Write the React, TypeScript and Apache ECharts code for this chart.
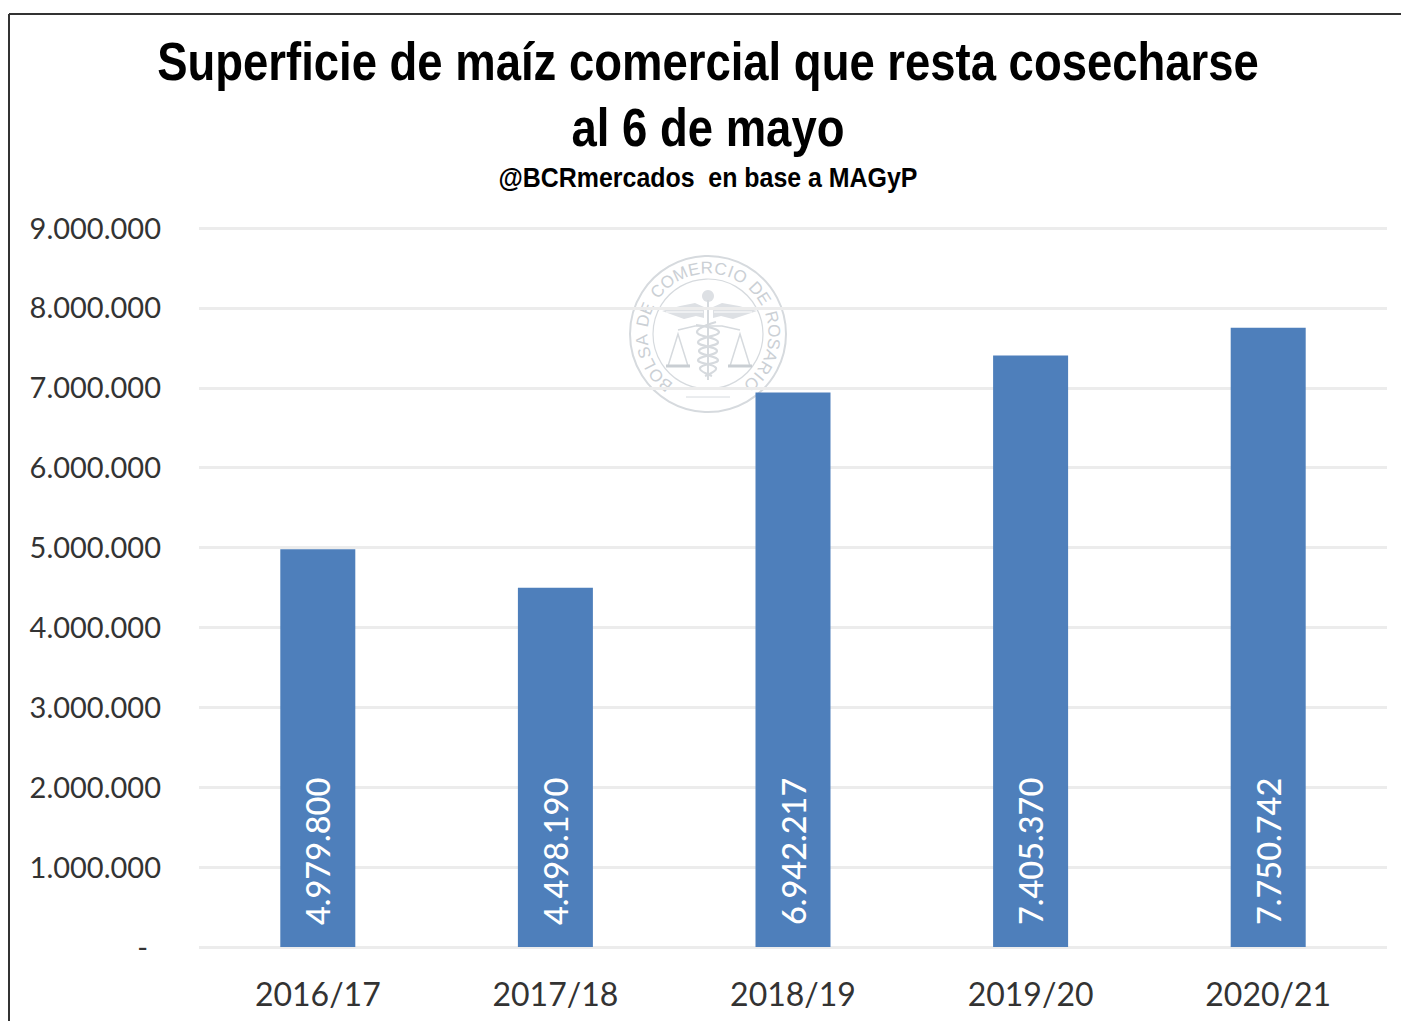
import React, { useEffect, useRef } from "react";
import * as echarts from "echarts";

const categories = ["2016/17", "2017/18", "2018/19", "2019/20", "2020/21"];
const values = [4979800, 4498190, 6942217, 7405370, 7750742];
const titleLine1 = "Superficie de maíz comercial que resta cosecharse";
const titleLine2 = "al 6 de mayo";
const subtitle = "@BCRmercados  en base a MAGyP";
const sealText = "BOLSA DE COMERCIO DE ROSARIO";

const fmt = (v: number) => Math.round(v).toString().replace(/\B(?=(\d{3})+(?!\d))/g, ".");
const LABEL_FONT = "Lato, Carlito, sans-serif";
const TITLE_FONT = "'Liberation Sans', sans-serif";
const SEAL = "#d6dade";
const cx = 708, cy = 334;

function charWidth(ch: string) {
  if (ch === " ") return 0.45;
  if (ch === "I") return 0.45;
  if (ch === "M") return 1.0;
  if ("OCR".includes(ch)) return 0.85;
  return 0.78;
}

function sealElements(): any[] {
  const stroke = { stroke: SEAL, fill: "none", lineWidth: 1.5 };
  const els: any[] = [
    { type: "circle", shape: { cx, cy, r: 78 }, style: { fill: "#fff", stroke: SEAL, lineWidth: 2 } },
    { type: "circle", shape: { cx, cy, r: 55 }, style: { ...stroke, lineWidth: 1.2 } },
    // wings
    { type: "polygon", shape: { points: [[662, 311], [680, 306], [695, 303], [704, 307], [704, 318], [696, 316], [684, 319]] }, style: { fill: "#dde0e4" } },
    { type: "polygon", shape: { points: [[757, 311], [739, 306], [722, 303], [713, 307], [713, 318], [721, 316], [733, 319]] }, style: { fill: "#dde0e4" } },
    { type: "line", shape: { x1: 666, y1: 312, x2: 703, y2: 312 }, style: { stroke: "#fff", lineWidth: 1 } },
    { type: "line", shape: { x1: 714, y1: 312, x2: 752, y2: 312 }, style: { stroke: "#fff", lineWidth: 1 } },
    { type: "circle", shape: { cx: 708, cy: 296, r: 6 }, style: { fill: "#dde0e4" } },
    { type: "line", shape: { x1: 708, y1: 300, x2: 708, y2: 380 }, style: { stroke: SEAL, lineWidth: 2 } },
    // serpents
    { type: "polyline", shape: { points: [[716, 322], [697, 332], [718, 342], [699, 351], [718, 360], [700, 368], [712, 376]], smooth: 0.5 }, style: { ...stroke, lineWidth: 2.2 } },
    { type: "polyline", shape: { points: [[696, 325], [719, 332], [698, 342], [717, 351], [698, 360], [716, 368], [705, 376]], smooth: 0.5 }, style: { ...stroke, lineWidth: 2.2 } },
    // scale beam
    { type: "polyline", shape: { points: [[678, 330], [695, 326], [722, 326], [740, 330]] }, style: stroke },
    // left and right pans
    { type: "polyline", shape: { points: [[668, 366], [678, 334], [688, 366]] }, style: stroke },
    { type: "polyline", shape: { points: [[730, 366], [740, 334], [750, 366]] }, style: stroke },
    { type: "line", shape: { x1: 666, y1: 366, x2: 690, y2: 366 }, style: { stroke: "#c9ced3", lineWidth: 3 } },
    { type: "line", shape: { x1: 728, y1: 366, x2: 752, y2: 366 }, style: { stroke: "#c9ced3", lineWidth: 3 } },
    { type: "line", shape: { x1: 686, y1: 397, x2: 730, y2: 397 }, style: { stroke: SEAL, lineWidth: 1 } },
  ];
  const start = -140, end = 139, r = 66;
  const chars = sealText.split("");
  const widths = chars.map(charWidth);
  const total = widths.reduce((a, b) => a + b, 0) - (widths[0] + widths[widths.length - 1]) / 2;
  let run = 0;
  chars.forEach((ch, i) => {
    if (i > 0) run += (widths[i - 1] + widths[i]) / 2;
    const deg = start + ((end - start) * run) / total;
    const rad = (deg * Math.PI) / 180;
    els.push({
      type: "text",
      x: cx + r * Math.sin(rad),
      y: cy - r * Math.cos(rad),
      rotation: (-deg * Math.PI) / 180,
      style: { text: ch, fill: "#cbd0d5", font: `17px 'Liberation Sans', sans-serif`, textAlign: "center", textVerticalAlign: "middle" },
    });
  });
  return els;
}

const titleText = (text: string, x: number, y: number, size: number, scaleX: number) => ({
  type: "text",
  x,
  y,
  scaleX,
  style: { text, fill: "#000", font: `bold ${size}px ${TITLE_FONT}`, textAlign: "center", textVerticalAlign: "middle" },
});

export default function App() {
  const ref = useRef<HTMLDivElement>(null);
  useEffect(() => {
    const chart = echarts.init(ref.current!, undefined, { renderer: "svg" });
    chart.setOption({
      animation: false,
      backgroundColor: "#fff",
      grid: { left: 199, right: 14, top: 228, bottom: 74, containLabel: false },
      xAxis: {
        type: "category",
        data: categories,
        axisLine: { show: false },
        axisTick: { show: false },
        axisLabel: { fontFamily: LABEL_FONT, fontSize: 32, color: "#333", margin: 30 },
      },
      yAxis: {
        type: "value",
        min: 0,
        max: 9000000,
        interval: 1000000,
        axisLine: { show: false },
        axisTick: { show: false },
        splitLine: { lineStyle: { color: "#ececec", width: 3 } },
        axisLabel: {
          margin: 38,
          fontFamily: LABEL_FONT,
          fontSize: 29,
          color: "#333",
          padding: [0, 0, 2, 0],
          formatter: (v: number) => (v === 0 ? "{d|-}" : fmt(v)),
          rich: { d: { fontFamily: LABEL_FONT, fontSize: 29, color: "#333", padding: [0, 13, 0, 0] } },
        },
      },
      series: [
        {
          type: "bar",
          data: values,
          barWidth: 75,
          itemStyle: { color: "#4e7fbb" },
          label: {
            show: true,
            position: "insideBottom",
            distance: 22,
            rotate: 90,
            align: "left",
            verticalAlign: "middle",
            fontFamily: LABEL_FONT,
            fontSize: 32.5,
            fontWeight: 500,
            color: "#fff",
            formatter: (p: any) => fmt(p.value),
          },
        },
      ],
      graphic: [
        { type: "group", silent: true, z: 5, children: sealElements() },
        titleText(titleLine1, 708, 62, 54, 0.842),
        titleText(titleLine2, 708, 128, 54, 0.842),
        titleText(subtitle, 708, 177, 28, 0.89),
        { type: "line", shape: { x1: 9, y1: 14, x2: 1401, y2: 14 }, style: { stroke: "#333", lineWidth: 2 } },
        { type: "line", shape: { x1: 9, y1: 14, x2: 9, y2: 1021 }, style: { stroke: "#333", lineWidth: 2 } },
      ],
    });
    return () => chart.dispose();
  }, []);
  return <div ref={ref} style={{ position: "fixed", left: 0, top: 0, width: 1401, height: 1021 }} />;
}
